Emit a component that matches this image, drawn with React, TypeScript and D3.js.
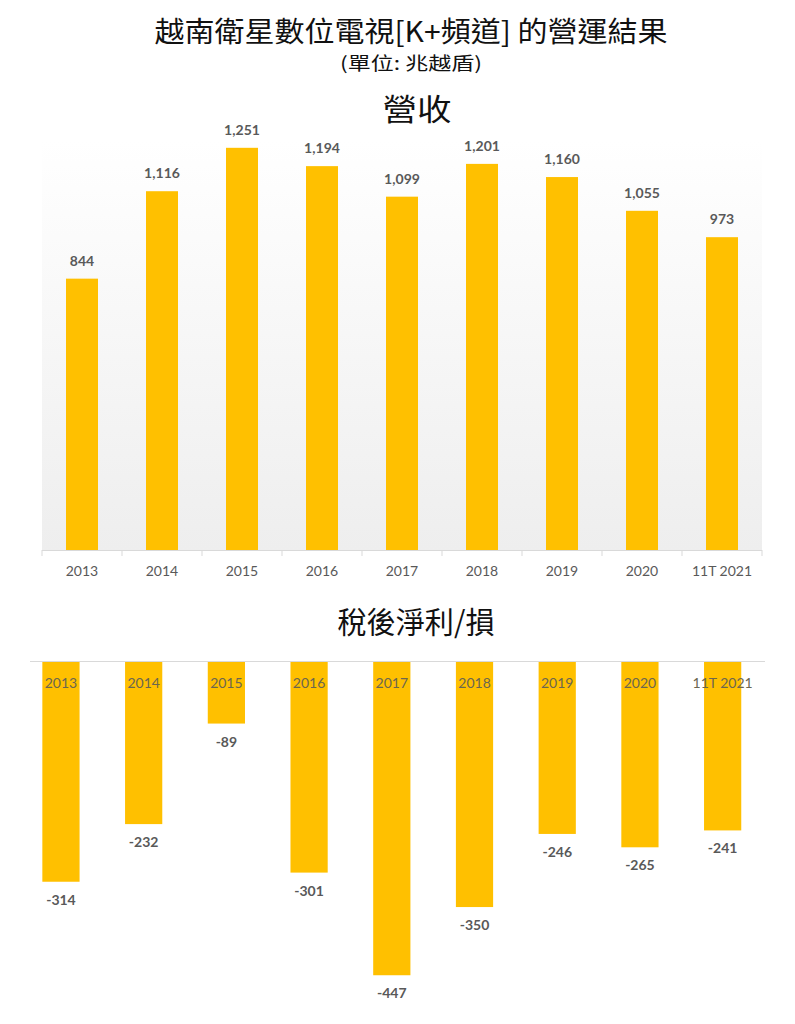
import React from "react";
import * as d3 from "d3";

const categories = ["2013", "2014", "2015", "2016", "2017", "2018", "2019", "2020", "11T 2021"];
const revenue = [844, 1116, 1251, 1194, 1099, 1201, 1160, 1055, 973];
const netProfit = [-314, -232, -89, -301, -447, -350, -246, -265, -241];

const title = "越南衛星數位電視[K+頻道] 的營運結果";
const subtitle = "(單位: 兆越盾)";
const topTitle = "營收";
const bottomTitle = "稅後淨利/損";

const W = 795;
const H = 1024;
const GOLD = "#FFC000";
const CJK = "'Noto Sans CJK TC', 'Noto Sans', sans-serif";
const NUM = "Lato, 'Open Sans', sans-serif";

export default function App() {
  const f = d3.format(",");
  const fmt = (v: number) => f(v).replace("\u2212", "-");
  const xTop = d3.scaleBand<string>().domain(categories).range([42, 762]).paddingInner(0.6).paddingOuter(0.3);
  const yTop = d3.scaleLinear().domain([0, 1400]).range([550, 550 - 1400 * 0.3215]);
  const xBot = d3.scaleBand<string>().domain(categories).range([19.6, 764]).paddingInner(0.55).paddingOuter(0.275);
  const yBot = d3.scaleLinear().domain([-500, 0]).range([661 + 500 * 0.703, 661]);

  const boundaries = d3.range(categories.length + 1).map((i) => 42 + i * xTop.step());

  return (
    <svg width={W} height={H} style={{ position: "absolute", left: 0, top: 0, background: "#fff" }}>
      <defs>
        <linearGradient id="bg" x1="0" y1="0" x2="0" y2="1">
          <stop offset="0" stopColor="#ffffff" />
          <stop offset="1" stopColor="#eeeeee" />
        </linearGradient>
      </defs>
      <text x={411} y={42} textAnchor="middle" fontFamily={CJK} fontSize={28} fill="#111" textLength={513} lengthAdjust="spacingAndGlyphs">{title}</text>
      <text x={411} y={70} textAnchor="middle" fontFamily={CJK} fontSize={18} fontWeight={400} fill="#111" textLength={142} lengthAdjust="spacingAndGlyphs">{subtitle}</text>
      <text x={417} y={120} textAnchor="middle" fontFamily={CJK} fontSize={30} fill="#111" textLength={69} lengthAdjust="spacingAndGlyphs">{topTitle}</text>

      {/* Top chart */}
      <rect x={42} y={140} width={720} height={410} fill="url(#bg)" />
      {categories.map((c, i) => (
        <g key={"t" + c}>
          <rect x={xTop(c)} y={yTop(revenue[i])} width={xTop.bandwidth()} height={yTop(0) - yTop(revenue[i])} fill={GOLD} />
          <text x={(xTop(c) as number) + xTop.bandwidth() / 2} y={yTop(revenue[i]) - 13} textAnchor="middle" fontFamily={NUM} fontWeight={700} fontSize={14} fill="#595959">{fmt(revenue[i])}</text>
          <text x={(xTop(c) as number) + xTop.bandwidth() / 2} y={576} textAnchor="middle" fontFamily={NUM} fontSize={14} fill="#595959">{c}</text>
        </g>
      ))}
      <line x1={42} x2={762} y1={550.5} y2={550.5} stroke="#d9d9d9" />
      {boundaries.map((b, i) => (
        <line key={"tk" + i} x1={b} x2={b} y1={550} y2={556} stroke="#d9d9d9" />
      ))}

      <text x={416} y={633} textAnchor="middle" fontFamily={CJK} fontSize={30} fill="#111" textLength={157} lengthAdjust="spacingAndGlyphs">{bottomTitle}</text>

      {/* Bottom chart */}
      {categories.map((c, i) => (
        <g key={"b" + c}>
          <rect x={xBot(c)} y={yBot(0)} width={xBot.bandwidth()} height={yBot(netProfit[i]) - yBot(0)} fill={GOLD} />
          <text x={(xBot(c) as number) + xBot.bandwidth() / 2} y={688} textAnchor="middle" fontFamily={NUM} fontSize={14} fill="#6b6650">{c}</text>
          <text x={(xBot(c) as number) + xBot.bandwidth() / 2} y={yBot(netProfit[i]) + 23} textAnchor="middle" fontFamily={NUM} fontWeight={700} fontSize={14} fill="#595959">{fmt(netProfit[i])}</text>
        </g>
      ))}
      <line x1={30} x2={765} y1={661.5} y2={661.5} stroke="#d9d9d9" />
    </svg>
  );
}
